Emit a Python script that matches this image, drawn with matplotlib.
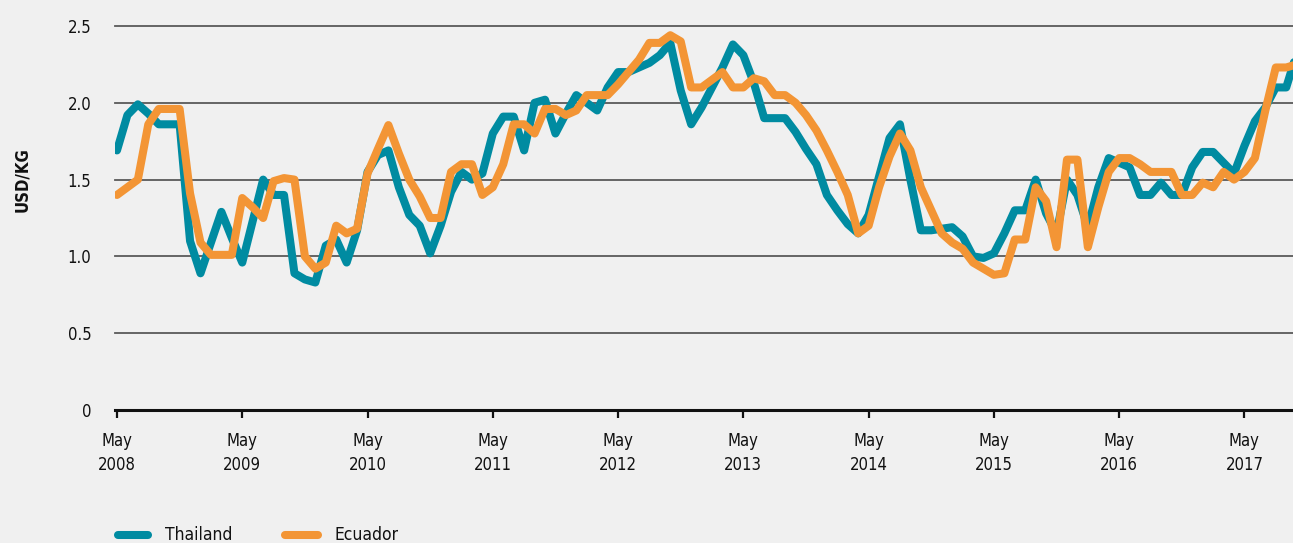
import matplotlib
matplotlib.use("Agg")
import matplotlib.pyplot as plt
from matplotlib.lines import Line2D
import numpy as np

# Monthly shrimp export prices, May 2008 onwards (USD/kg)
thailand = [
    1.69, 1.92, 1.99, 1.93, 1.86, 1.86, 1.86, 1.10, 0.89, 1.09, 1.29, 1.12,
    0.96, 1.23, 1.50, 1.40, 1.40, 0.89, 0.85, 0.83, 1.07, 1.11, 0.96, 1.17,
    1.55, 1.66, 1.69, 1.45, 1.27, 1.20, 1.02, 1.20, 1.42, 1.55, 1.50, 1.54,
    1.80, 1.91, 1.91, 1.69, 2.00, 2.02, 1.80, 1.93, 2.05, 2.00, 1.95, 2.10,
    2.20, 2.20, 2.23, 2.26, 2.31, 2.39, 2.08, 1.86, 1.97, 2.10, 2.23, 2.38,
    2.31, 2.13, 1.90, 1.90, 1.90, 1.81, 1.70, 1.60, 1.40, 1.30, 1.21, 1.15,
    1.27, 1.52, 1.77, 1.86, 1.50, 1.17, 1.17, 1.18, 1.19, 1.13, 1.00, 0.99,
    1.02, 1.15, 1.30, 1.30, 1.50, 1.28, 1.15, 1.50, 1.40, 1.19, 1.45, 1.64,
    1.61, 1.58, 1.40, 1.40, 1.48, 1.40, 1.40, 1.58, 1.68, 1.68, 1.61, 1.54,
    1.72, 1.88, 1.97, 2.10, 2.10, 2.32,
]
ecuador = [
    1.40, 1.45, 1.50, 1.86, 1.96, 1.96, 1.96, 1.41, 1.09, 1.01, 1.01, 1.01,
    1.38, 1.32, 1.25, 1.49, 1.51, 1.50, 1.00, 0.92, 0.96, 1.20, 1.15, 1.18,
    1.54, 1.70, 1.855, 1.67, 1.50, 1.39, 1.25, 1.25, 1.55, 1.60, 1.60, 1.40,
    1.45, 1.60, 1.86, 1.86, 1.80, 1.96, 1.96, 1.92, 1.95, 2.05, 2.05, 2.05,
    2.12, 2.20, 2.28, 2.39, 2.39, 2.44, 2.40, 2.10, 2.10, 2.15, 2.20, 2.10,
    2.10, 2.16, 2.14, 2.05, 2.05, 2.00, 1.92, 1.82, 1.69, 1.55, 1.40, 1.15,
    1.20, 1.45, 1.65, 1.80, 1.69, 1.45, 1.30, 1.15, 1.09, 1.05, 0.96, 0.92,
    0.88, 0.89, 1.11, 1.11, 1.45, 1.36, 1.06, 1.63, 1.63, 1.06, 1.32, 1.55,
    1.64, 1.64, 1.60, 1.55, 1.55, 1.55, 1.40, 1.40, 1.48, 1.45, 1.55, 1.50,
    1.55, 1.64, 1.95, 2.23, 2.23, 2.25,
]
year_labels = ["2008", "2009", "2010", "2011", "2012",
               "2013", "2014", "2015", "2016", "2017"]
y_ticks = [0, 0.5, 1.0, 1.5, 2.0, 2.5]
y_tick_labels = ["0", "0.5", "1.0", "1.5", "2.0", "2.5"]
series_names = ["Thailand", "Ecuador"]

TEAL = "#008ba1"
ORANGE = "#f39535"
BG = "#f0f0f0"
INK = "#111111"

plt.rcParams["font.family"] = ["DejaVu Sans"]
plt.rcParams["font.stretch"] = "condensed"

W, H = 1293, 543
fig = plt.figure(figsize=(W / 100, H / 100), dpi=100, facecolor=BG)

left_px, right_px, top_px, zero_px = 115, 1293, 26, 410
ax = fig.add_axes([left_px / W, 1 - zero_px / H,
                   (right_px - left_px) / W, (zero_px - top_px) / H])
ax.set_facecolor(BG)

months = np.arange(len(thailand))
lw = 5.8
ax.plot(months, thailand, color=TEAL, lw=lw, solid_joinstyle="round",
        solid_capstyle="round", zorder=3)
ax.plot(months, ecuador, color=ORANGE, lw=lw, solid_joinstyle="round",
        solid_capstyle="round", zorder=4)

ax.set_xlim(-0.19, 112.65)
ax.set_ylim(0, 2.5)

# horizontal gridlines
for v in y_ticks[1:]:
    ax.axhline(v, color="#5a5a5a", lw=1.3, zorder=1, clip_on=False)
ax.axhline(0, color=INK, lw=2.2, zorder=5, clip_on=False)

for s in ax.spines.values():
    s.set_visible(False)

ax.set_yticks(y_ticks)
ax.set_yticklabels(y_tick_labels)
ax.tick_params(axis="y", length=0, pad=17, labelsize=12, colors=INK)

ax.set_xticks(np.arange(0, len(year_labels) * 12, 12))
ax.set_xticklabels([f"May\n{y}" for y in year_labels], linespacing=1.4)
ax.tick_params(axis="x", length=6, width=1.6, color=INK,
               pad=10, labelsize=12, labelcolor=INK)

fig.text(22 / W, 1 - 180 / H, "USD/KG", rotation=90, ha="center",
         va="center", fontsize=12, fontweight="bold", color=INK)

# legend drawn along the bottom edge
leg_y = 1 - 535 / H
for (x0, x1, tx), col, name in zip([(118, 148, 165), (285, 318, 335)],
                                   [TEAL, ORANGE], series_names):
    fig.add_artist(Line2D([x0 / W, x1 / W], [leg_y, leg_y], color=col,
                          lw=5.8, solid_capstyle="round",
                          transform=fig.transFigure))
    fig.text(tx / W, leg_y, name, ha="left", va="center", fontsize=12.5,
             color=INK)

fig.savefig("out.png", dpi=100, facecolor=BG)
